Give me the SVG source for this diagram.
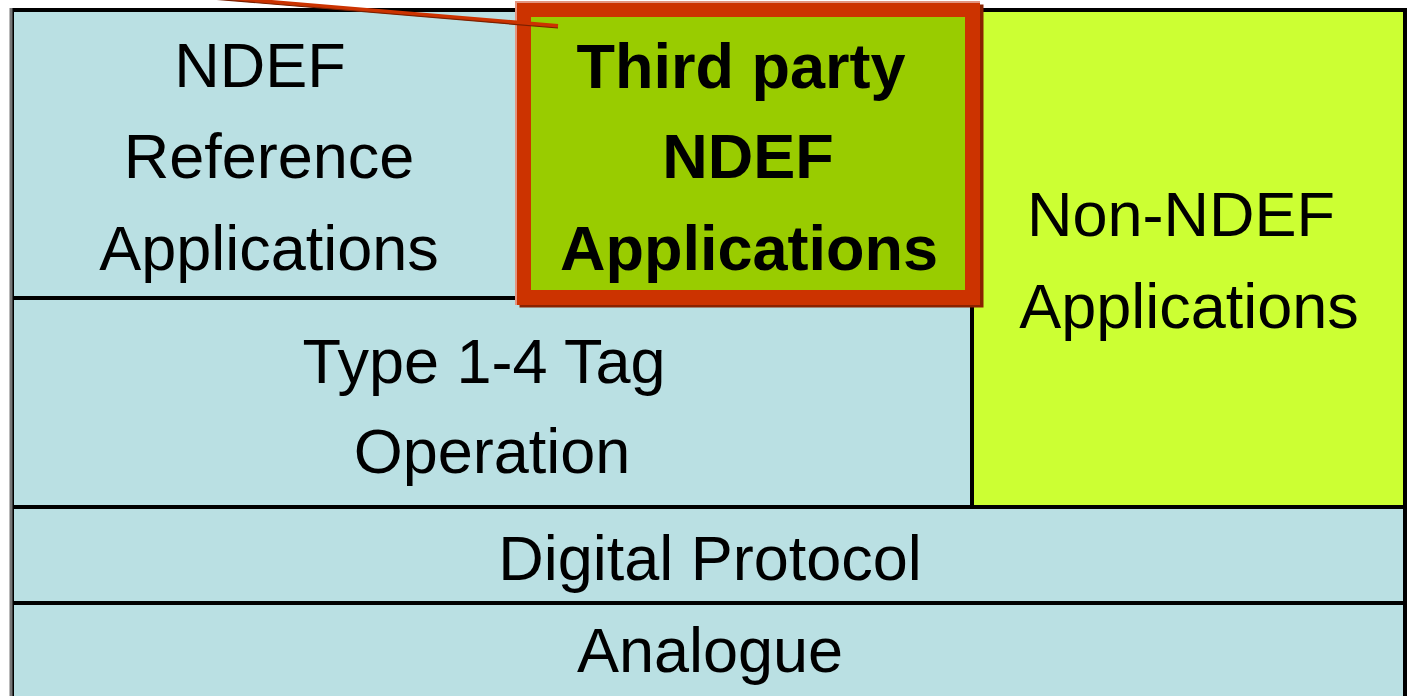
<svg xmlns="http://www.w3.org/2000/svg" width="1412" height="696" viewBox="0 0 1412 696">
<style>
.cell{fill:#BAE0E3;stroke:#000;stroke-width:4}
.t{font-family:"Liberation Sans",Arial,sans-serif;font-size:63px;fill:#000;text-anchor:middle}
.b{font-weight:bold}
</style>
<rect width="1412" height="696" fill="#fff"/>
<g id="analogue">
<rect class="cell" x="12" y="603" width="1393" height="100"/>
<text class="t" x="710" y="672">Analogue</text>
</g>
<g id="digital">
<rect class="cell" x="12" y="507" width="1393" height="96"/>
<text class="t" x="710" y="580">Digital Protocol</text>
</g>
<g id="type14">
<rect class="cell" x="12" y="298" width="960" height="209"/>
<text class="t" x="484" y="383">Type 1-4 Tag</text>
<text class="t" x="492" y="473">Operation</text>
</g>
<g id="nonndef">
<rect x="972" y="10" width="433" height="497" fill="#CCFF33" stroke="#000" stroke-width="4"/>
<text class="t" x="1181" y="236">Non-NDEF</text>
<text class="t" x="1189" y="328">Applications</text>
</g>
<g id="ndefref">
<rect class="cell" x="12" y="10" width="520" height="288"/>
<text class="t" x="260" y="87">NDEF</text>
<text class="t" x="269" y="178">Reference</text>
<text class="t" x="269" y="270">Applications</text>
</g>
<line x1="11" y1="8" x2="11" y2="696" stroke="#777" stroke-width="3"/>
<g id="thirdparty">
<rect x="527" y="12" width="449" height="288" fill="none" stroke="#8a2200" stroke-width="15"/>
<rect x="523.5" y="9.5" width="449" height="288" fill="#99CC00" stroke="#CC3300" stroke-width="15"/>
<path d="M516 305 V2 H980" fill="none" stroke="#E39580" stroke-width="2"/>
<text class="t b" x="741" y="88">Third party</text>
<text class="t b" x="748" y="178">NDEF</text>
<text class="t b" x="749" y="270">Applications</text>
</g>
<g id="connectors">
<line x1="212" y1="-3" x2="558" y2="26" stroke="#CC3300" stroke-width="4"/>
<line x1="212" y1="-1" x2="558" y2="28" stroke="#7a2000" stroke-width="1.2"/>
</g>
</svg>
